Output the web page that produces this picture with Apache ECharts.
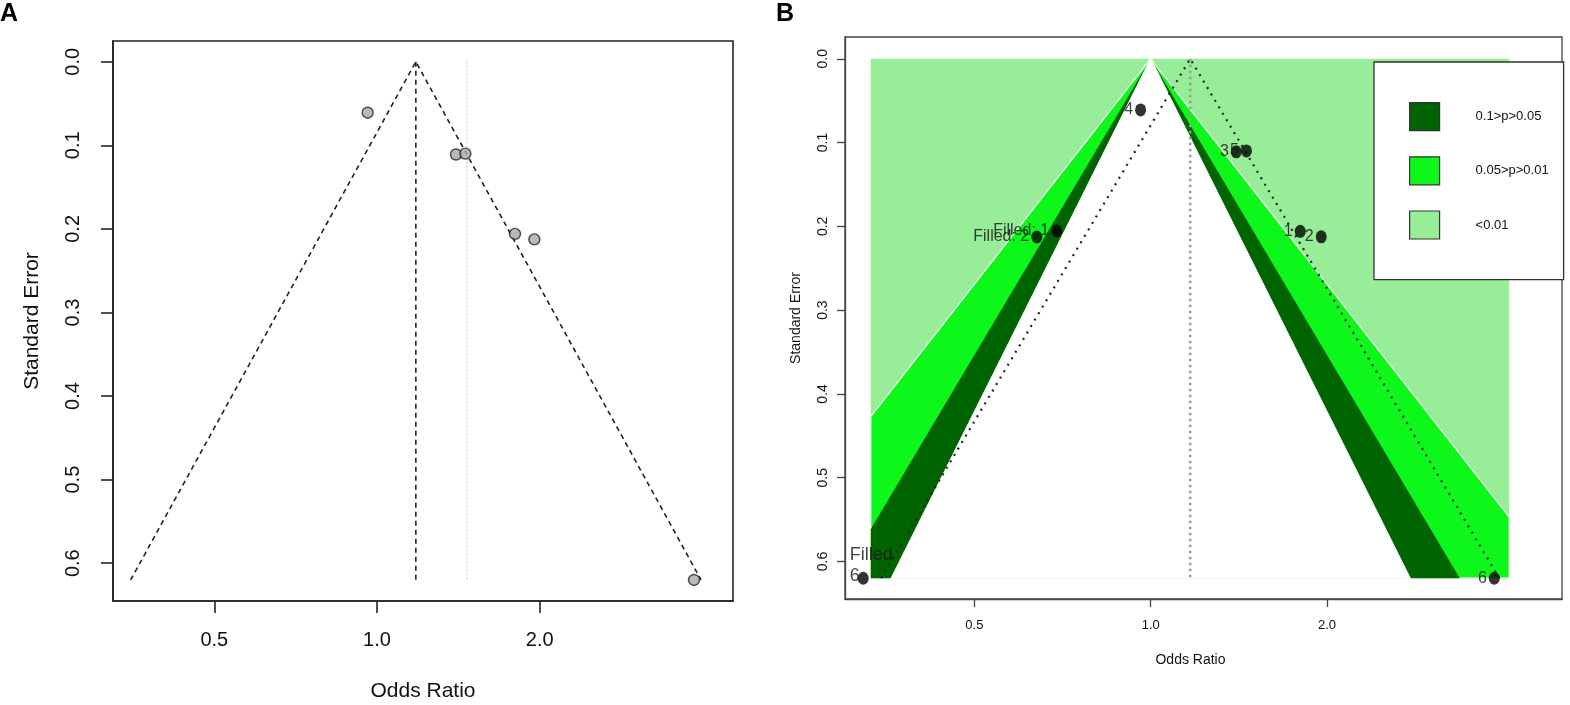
<!DOCTYPE html>
<html>
<head>
<meta charset="utf-8">
<title>Funnel plots</title>
<script src="https://cdn.jsdelivr.net/npm/echarts@6/dist/echarts.min.js"></script>
<style>
  html, body { margin: 0; padding: 0; background: #fff; }
  #chart { width: 1570px; height: 705px; }
</style>
</head>
<body>
<div id="chart"></div>
<script>
// observed studies 1..6
var studyLabels = ['1', '2', '3', '4', '5', '6'];
var studyOR = [1.80, 1.955, 1.40, 0.961, 1.457, 3.86];
var studySE = [0.206, 0.2125, 0.111, 0.061, 0.110, 0.620];
// studies added by trim-and-fill
var filledLabels = ['Filled: 1', 'Filled: 2', 'Filled\n6'];
var filledOR = [0.691, 0.639, 0.323];
var filledSE = [0.2055, 0.2127, 0.620];
// pooled estimates
var fixedOR = 1.18;
var randomOR = 1.467;
var trimfillOR = 1.168;
var seMax = 0.62;
// contour levels (z for p = 0.1, 0.05, 0.01)
var contourZ = [1.645, 1.96, 2.576];
var contourNames = ['0.1>p>0.05', '0.05>p>0.01', '<0.01'];
var contourORRange = [0.3327, 4.094];
// tick labels
var xTicks = [0.5, 1.0, 2.0];
var yTicks = [0, 0.1, 0.2, 0.3, 0.4, 0.5, 0.6];

var darkGreen = '#006400', green = '#0df71a', lightGreen = '#98ee98';
var sans = 'Liberation Sans, Arial, sans-serif';

var ln = Math.log;
var xL = ln(contourORRange[0]), xR = ln(contourORRange[1]);

/* funnel lines around a centre, 95% limits */
function funnel(center) {
	var c = ln(center), w = 1.96 * seMax;
	return [[c - w, seMax], [c, 0], [c + w, seMax]];
}
function vline(center) {
	return [[ln(center), 0], [ln(center), seMax]];
}
/* triangle |x| < k*se, cut to the shaded x range */
function tri(k) {
	var pts = [[0, 0]];
	if (k * seMax <= xR) pts.push([k * seMax, seMax]);
	else { pts.push([xR, xR / k]); pts.push([xR, seMax]); }
	if (k * seMax <= -xL) pts.push([-k * seMax, seMax]);
	else { pts.push([xL, seMax]); pts.push([xL, -xL / k]); }
	return pts;
}
function polySeries(name, pts, fill, stroke, lw) {
	return {
		type: 'custom', name: name, xAxisIndex: 1, yAxisIndex: 1, z: 1, silent: true,
		itemStyle: { color: fill },
		data: [[0, 0]],
		renderItem: function (params, api) {
			return {
				type: 'polygon',
				shape: { points: pts.map(function (p) { return api.coord(p); }) },
				style: { fill: fill, stroke: stroke || null, lineWidth: lw || 0 }
			};
		}
	};
}
function lineSeries(gi, data, color, width, dash) {
	return {
		type: 'line', xAxisIndex: gi, yAxisIndex: gi, z: 3, silent: true,
		data: data, symbol: 'none',
		lineStyle: { color: color, width: width, type: dash }
	};
}

var axisCommon = {
	type: 'value',
	splitLine: { show: false },
	nameLocation: 'middle',
	nameMoveOverlap: false
};

function xAxis(gi, min, max, opt) {
	return Object.assign({}, axisCommon, {
		gridIndex: gi, min: min, max: max,
		axisLine: { onZero: false, lineStyle: { color: opt.color, width: opt.lw } },
		axisTick: { customValues: xTicks.map(ln), length: opt.tick, lineStyle: { color: opt.color, width: opt.lw } },
		axisLabel: {
			customValues: xTicks.map(ln), margin: opt.margin, color: '#111',
			fontSize: opt.fs, fontFamily: sans,
			formatter: function (v) { return Math.exp(v).toFixed(1); }
		},
		name: 'Odds Ratio', nameGap: opt.gap,
		nameTextStyle: { fontSize: opt.nfs, fontFamily: sans, color: '#111', padding: opt.npad || 0 }
	});
}
function yAxis(gi, min, max, opt) {
	return Object.assign({}, axisCommon, {
		gridIndex: gi, min: min, max: max, inverse: true,
		axisLine: { onZero: false, lineStyle: { color: opt.color, width: opt.lw } },
		axisTick: { customValues: yTicks, length: opt.tick, lineStyle: { color: opt.color, width: opt.lw } },
		axisLabel: {
			customValues: yTicks, rotate: 90, margin: opt.margin, color: '#111',
			fontSize: opt.fs, fontFamily: sans,
			formatter: function (v) { return v.toFixed(1); }
		},
		name: 'Standard Error', nameGap: opt.gap, nameRotate: 90,
		nameTextStyle: { fontSize: opt.nfs, fontFamily: sans, color: '#111' }
	});
}

var chart = echarts.init(document.getElementById('chart'), null, { renderer: 'canvas' });

var studyPts = studyOR.map(function (v, i) { return { name: studyLabels[i], value: [ln(v), studySE[i]] }; });
var filledPts = filledOR.map(function (v, i) {
	var item = { name: filledLabels[i], value: [ln(v), filledSE[i]] };
	if (filledLabels[i].indexOf('\n') >= 0) {
		item.label = { position: [-8, -27], align: 'left', verticalAlign: 'top', lineHeight: 21, fontSize: 18 };
	}
	return item;
});
var pointLabel = {
	show: true, position: 'left', distance: 2, formatter: '{b}',
	fontSize: 16, fontFamily: sans, color: '#111'
};

var option = {
	animation: false,
	backgroundColor: '#fff',
	title: [
		{ text: 'A', left: 0, top: 2, padding: 0, textStyle: { fontSize: 25, fontWeight: 'bold', fontFamily: sans, color: '#000' } },
		{ text: 'B', left: 776, top: 2, padding: 0, textStyle: { fontSize: 25, fontWeight: 'bold', fontFamily: sans, color: '#000' } }
	],
	grid: [
		{ left: 113, top: 41, width: 620, height: 560, show: true, borderColor: '#222', borderWidth: 1.6, outerBoundsMode: 'none' },
		{ left: 845, top: 37, width: 717, height: 562, show: true, borderColor: '#444', borderWidth: 1.3, outerBoundsMode: 'none' }
	],
	xAxis: [
		xAxis(0, -1.1248, 1.5168, { color: '#222', lw: 1.6, tick: 12, margin: 29, fs: 20, nfs: 21, gap: 80 }),
		xAxis(1, -1.2017, 1.6168, { color: '#444', lw: 1.3, tick: 8, margin: 20, fs: 13, nfs: 14, gap: 54, npad: [0, 26, 0, 0] })
	],
	yAxis: [
		yAxis(0, -0.0248, 0.6452, { color: '#222', lw: 1.6, tick: 12, margin: 30, fs: 20, nfs: 21, gap: 70 }),
		yAxis(1, -0.026, 0.6448, { color: '#444', lw: 1.3, tick: 8, margin: 15, fs: 14, nfs: 14, gap: 42 })
	],
	legend: {
		orient: 'vertical', left: 1374, top: 62,
		padding: [40, 15, 40, 35], itemWidth: 30, itemHeight: 28, itemGap: 25,
		backgroundColor: '#fff', borderColor: '#333', borderWidth: 1.3,
		selectedMode: false,
		data: [
			{ name: contourNames[0], icon: 'rect', itemStyle: { color: darkGreen, borderColor: '#333', borderWidth: 1.2 } },
			{ name: contourNames[1], icon: 'rect', itemStyle: { color: green, borderColor: '#333', borderWidth: 1.2 } },
			{ name: contourNames[2], icon: 'rect', itemStyle: { color: lightGreen, borderColor: '#333', borderWidth: 1.2 } }
		],
		textStyle: { fontSize: 13, fontFamily: sans, color: '#111', padding: [0, 0, 0, 31] }
	},
	series: [
		// panel A: plain funnel plot
		lineSeries(0, funnel(fixedOR), '#222', 1.6, [5, 4]),
		lineSeries(0, vline(fixedOR), '#222', 1.6, [5, 4]),
		lineSeries(0, vline(randomOR), '#c8c8c8', 1.5, [1.5, 2.5]),
		{
			type: 'scatter', xAxisIndex: 0, yAxisIndex: 0, z: 5, silent: true,
			data: studyPts, symbolSize: 11,
			itemStyle: { color: '#a8a8a8', borderColor: '#222', borderWidth: 1.4 }
		},
		// panel B: contour-enhanced funnel with trim-and-fill
		polySeries(contourNames[2], [[xL, 0], [xR, 0], [xR, seMax], [xL, seMax]], lightGreen),
		polySeries(contourNames[1], tri(contourZ[2]), green, '#fff', 1.2),
		polySeries(contourNames[0], tri(contourZ[1]), darkGreen),
		polySeries('', tri(contourZ[0]), '#fff', '#fff', 1.2),
		lineSeries(1, funnel(trimfillOR), '#222', 2.2, [2, 5.5]),
		lineSeries(1, vline(trimfillOR), '#9a9a9a', 2.5, [2.5, 3.5]),
		{
			type: 'scatter', xAxisIndex: 1, yAxisIndex: 1, z: 5, silent: true,
			data: studyPts, symbolSize: [11, 13],
			itemStyle: { color: '#000' }, label: pointLabel
		},
		{
			type: 'scatter', xAxisIndex: 1, yAxisIndex: 1, z: 5, silent: true,
			data: filledPts, symbolSize: [11, 13],
			itemStyle: { color: '#000' }, label: pointLabel
		}
	]
};
chart.setOption(option);
</script>
</body>
</html>
